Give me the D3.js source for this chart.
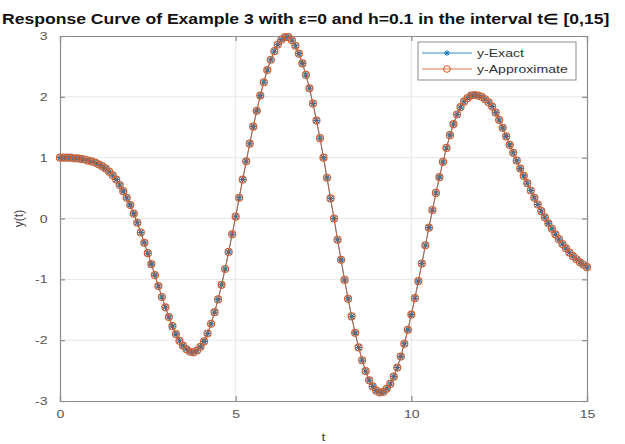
<!DOCTYPE html>
<html>
<head>
<meta charset="utf-8">
<script src="https://cdn.jsdelivr.net/npm/d3@7"></script>
<style>
  body { margin: 0; background: #fff; }
  svg { display: block; font-family: "Liberation Sans", Arial, sans-serif; }
</style>
</head>
<body>
<div id="chart"></div>
<script>
// Step size of the scheme, t runs 0..15
const h = 0.1;

// y(t), one value per step of h
const yExact = [
  1.00, 1.00, 1.00, 1.00, 0.99, 0.99, 0.98, 0.97, 0.95, 0.94,
  0.92, 0.89, 0.86, 0.82, 0.77, 0.71, 0.64, 0.55, 0.45, 0.34,
  0.22, 0.08, -0.07, -0.23, -0.40, -0.57, -0.75, -0.93, -1.11, -1.29,
  -1.46, -1.62, -1.77, -1.90, -2.01, -2.09, -2.15, -2.19, -2.20, -2.17,
  -2.11, -2.02, -1.89, -1.73, -1.54, -1.33, -1.09, -0.83, -0.55, -0.26,
  0.03, 0.34, 0.64, 0.94, 1.23, 1.51, 1.77, 2.02, 2.24, 2.44,
  2.61, 2.75, 2.86, 2.94, 2.98, 2.98, 2.93, 2.84, 2.71, 2.55,
  2.36, 2.14, 1.89, 1.61, 1.32, 1.00, 0.67, 0.33, 0.00, -0.35,
  -0.68, -1.01, -1.32, -1.61, -1.88, -2.12, -2.33, -2.51, -2.66, -2.76,
  -2.83, -2.86, -2.85, -2.80, -2.72, -2.60, -2.45, -2.27, -2.06, -1.83,
  -1.58, -1.31, -1.03, -0.74, -0.44, -0.15, 0.14, 0.42, 0.68, 0.93,
  1.16, 1.37, 1.55, 1.71, 1.83, 1.92, 1.98, 2.02, 2.03, 2.02,
  2.00, 1.96, 1.91, 1.84, 1.74, 1.62, 1.49, 1.35, 1.21, 1.08,
  0.95, 0.82, 0.70, 0.58, 0.46, 0.34, 0.23, 0.12, 0.02, -0.08,
  -0.17, -0.26, -0.34, -0.42, -0.49, -0.56, -0.62, -0.67, -0.72, -0.76,
  -0.80
];
// the approximate solution sits on top of the exact one at this scale
const yApprox = yExact.slice();

const xTicks = [0, 5, 10, 15];
const yTicks = [-3, -2, -1, 0, 1, 2, 3];

const seriesNames = ["y-Exact", "y-Approximate"];
const blue = "#0072BD", orange = "#D95319";

let margin = {top: 36, right: 38, bottom: 43, left: 60};
let width = 625 - margin.left - margin.right,
    height = 444 - margin.top - margin.bottom;

// the whole picture is a bit wider than tall, text is stretched with it
const sx = 1.28;

let svg = d3.select("#chart").append("svg")
    .attr("width", 625)
    .attr("height", 444);

let g = svg.append("g")
    .attr("transform", `translate(${margin.left},${margin.top})`);

let xScale = d3.scaleLinear().domain([0, 15]).range([0, width]);
let yScale = d3.scaleLinear().domain([-3, 3]).range([height, 0]);

let exact = yExact.map((y, i) => ({t: i * h, y: y}));
let approx = yApprox.map((y, i) => ({t: i * h, y: y}));

// grid
g.append("g").selectAll("line")
    .data(xTicks.slice(1, -1))
    .enter().append("line")
    .attr("x1", d => xScale(d)).attr("x2", d => xScale(d))
    .attr("y1", 0).attr("y2", height)
    .style("stroke", "#e6e6e6");

g.append("g").selectAll("line")
    .data(yTicks.slice(1, -1))
    .enter().append("line")
    .attr("x1", 0).attr("x2", width)
    .attr("y1", d => yScale(d)).attr("y2", d => yScale(d))
    .style("stroke", "#e6e6e6");

// axes, ticks pointing inward, box on all sides
let axisColor = "#8c8c8c";

let xAxis = g.append("g")
    .attr("transform", `translate(0,${height})`)
    .call(d3.axisBottom(xScale).tickValues(xTicks).tickSize(-5).tickPadding(9).tickFormat(d => String(d)));
let yAxis = g.append("g")
    .call(d3.axisLeft(yScale).tickValues(yTicks).tickSize(-5).tickPadding(8).tickFormat(d => String(d)));
g.append("g")
    .call(d3.axisTop(xScale).tickValues(xTicks).tickSize(-5).tickFormat(""));
g.append("g")
    .attr("transform", `translate(${width},0)`)
    .call(d3.axisRight(yScale).tickValues(yTicks).tickSize(-5).tickFormat(""));

g.selectAll(".domain, .tick line")
    .style("stroke", axisColor)
    .style("stroke-width", 1.2);

g.selectAll(".tick text")
    .style("fill", "#555")
    .style("font-size", "11px");

// stretch labels the same way, around their own anchor
xAxis.selectAll(".tick text")
    .attr("transform", `scale(${sx},1)`);
yAxis.selectAll(".tick text")
    .attr("transform", `translate(${-8 * (sx - 1)},0) scale(${sx},1)`);

// lines
let line = d3.line()
    .x(d => xScale(d.t))
    .y(d => yScale(d.y));

function asterisk(r) {
    let a = r * 0.7;
    return `M${-r},0L${r},0M0,${-r}L0,${r}M${-a},${-a}L${a},${a}M${-a},${a}L${a},${-a}`;
}

g.append("path")
    .datum(exact)
    .attr("d", line)
    .style("fill", "none")
    .style("stroke", blue)
    .style("stroke-width", 0.8);

g.selectAll(".star")
    .data(exact)
    .enter().append("path")
    .attr("class", "star")
    .attr("transform", d => `translate(${xScale(d.t)},${yScale(d.y)})`)
    .attr("d", asterisk(3.4))
    .style("stroke", "#3a6e96")
    .style("stroke-width", 1.1);

g.append("path")
    .datum(approx)
    .attr("d", line)
    .style("fill", "none")
    .style("stroke", orange)
    .style("stroke-width", 0.8);

g.selectAll(".ring")
    .data(approx)
    .enter().append("circle")
    .attr("class", "ring")
    .attr("cx", d => xScale(d.t))
    .attr("cy", d => yScale(d.y))
    .attr("r", 3.5)
    .style("fill", "none")
    .style("stroke", "#c8643c")
    .style("stroke-width", 1.2);

// labels
g.append("text")
    .attr("transform", `translate(${width / 2},${height + 40}) scale(${sx},1)`)
    .attr("text-anchor", "middle")
    .style("font-size", "11px")
    .style("fill", "#444")
    .text("t");

g.append("text")
    .attr("transform", `translate(-37,${height / 2}) rotate(-90)`)
    .attr("text-anchor", "middle")
    .style("font-size", "12px")
    .style("fill", "#444")
    .text("y(t)");

svg.append("text")
    .attr("transform", `translate(2,24) scale(1.255,1)`)
    .style("font-size", "14px")
    .style("font-weight", "bold")
    .style("fill", "#111")
    .text("Response Curve of Example 3 with \u03B5=0 and h=0.1 in the interval t\u2208 [0,15]");

// legend
let legend = svg.append("g").attr("transform", "translate(418,42)");
legend.append("rect")
    .attr("width", 158).attr("height", 38)
    .style("fill", "#fff")
    .style("stroke", axisColor)
    .style("stroke-width", 1);

seriesNames.forEach((name, i) => {
    let row = legend.append("g").attr("transform", `translate(0,${11 + i * 16})`);
    let c = i === 0 ? blue : orange;
    row.append("line")
        .attr("x1", 4).attr("x2", 54)
        .style("stroke", c).style("stroke-width", 0.8);
    if (i === 0) {
        row.append("path").attr("transform", "translate(29,0)")
            .attr("d", asterisk(3)).style("stroke", c).style("stroke-width", 0.9);
    } else {
        row.append("circle").attr("cx", 29).attr("r", 3.3)
            .style("fill", "none").style("stroke", c);
    }
    row.append("text")
        .attr("transform", `translate(59,4) scale(${sx},1)`)
        .style("font-size", "11px")
        .style("fill", "#333")
        .text(name);
});
</script>
</body>
</html>
